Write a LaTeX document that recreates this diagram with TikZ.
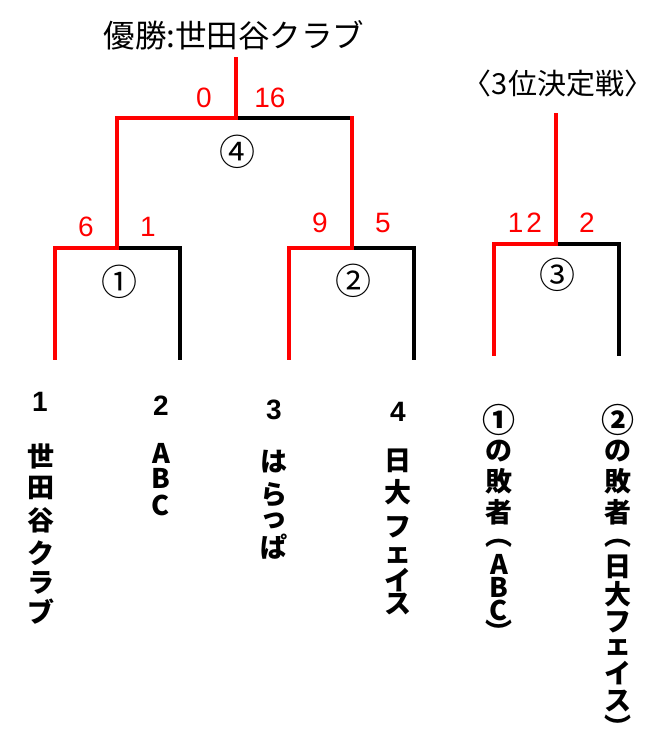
\documentclass[tikz,border=0pt]{standalone}
\usepackage{fontspec}
\setmainfont{Noto Sans CJK JP}
\newfontfamily\digitfont{Liberation Sans}
\newcommand\vcol[3]{\foreach \c/\yy [count=\i] in {#3} {\node[nm] (#1-\i) at (#2,\yy) {\c};}}
\begin{document}
\begin{tikzpicture}[x=1pt,y=-1pt,
  br/.style={line width=3.5pt, line join=miter, line cap=rect},
  win/.style={br, draw=red},
  lose/.style={br, draw=black},
  score/.style={text=red, inner sep=0pt, font=\digitfont\fontsize{28}{28}\selectfont},
  circ/.style={inner sep=0pt, font=\fontsize{36}{36}\selectfont},
  ttl/.style={inner sep=0pt, font=\fontsize{31.5}{31.5}\selectfont},
  ttl3/.style={inner sep=0pt, font=\fontsize{29}{29}\selectfont},
  nm/.style={inner sep=0pt, font=\bfseries\fontsize{27}{27}\selectfont},
  bigc/.style={inner sep=0pt, font=\bfseries\fontsize{33}{33}\selectfont},
  num/.style={inner sep=0pt, font=\digitfont\bfseries\fontsize{28}{28}\selectfont}]
\useasboundingbox[fill=white] (0,0) rectangle (670,756);
% bracket points
\coordinate (top4) at (236,59);
\coordinate (j4) at (236,118);
\coordinate (l4) at (117,118);
\coordinate (r4) at (352,118);
\coordinate (j1) at (117,248);
\coordinate (l1) at (55,248);
\coordinate (r1) at (180,248);
\coordinate (l1b) at (55,358);
\coordinate (r1b) at (180,358);
\coordinate (j2) at (352,248);
\coordinate (l2) at (289,248);
\coordinate (r2) at (414,248);
\coordinate (l2b) at (289,358);
\coordinate (r2b) at (414,358);
\coordinate (top3) at (556,115);
\coordinate (j3) at (556,244);
\coordinate (l3) at (494,244);
\coordinate (r3) at (619,244);
\coordinate (l3b) at (494,354);
\coordinate (r3b) at (619,354);
% losing branches
\draw[lose] (j4) -- (r4);
\draw[lose] (j1) -- (r1) -- (r1b);
\draw[lose] (j2) -- (r2) -- (r2b);
\draw[lose] (j3) -- (r3) -- (r3b);
% winning branches
\draw[win] (top4) -- (j4) -- (l4) -- (j1) -- (l1) -- (l1b);
\draw[win] (r4) -- (j2) -- (l2) -- (l2b);
\draw[win] (top3) -- (j3) -- (l3) -- (l3b);
% titles
\node[ttl] (title) at (234,35) {優勝:世田谷クラブ};
\node[ttl3] (title3) at (558,83) {〈3位決定戦〉};
% scores
\node[score] (s4l) at (204,98) {0};
\node[score] (s4r) at (270,98) {16};
\node[score] (s1l) at (86,227) {6};
\node[score] (s1r) at (148,227) {1};
\node[score] (s2l) at (320,223) {9};
\node[score] (s2r) at (383,223) {5};
\node[score] (s3l) at (525,223) {1\hspace{3pt}2};
\node[score] (s3r) at (587,223) {2};
% match numbers
\node[circ] (m4) at (237,152) {④};
\node[circ] (m1) at (119,282) {①};
\node[circ] (m2) at (353,281) {②};
\node[circ] (m3) at (557,275) {③};
% seed numbers
\node[num] (n1) at (40,402) {1};
\node[num] (n2) at (161,406) {2};
\node[num] (n3) at (274,410) {3};
\node[num] (n4) at (398,412) {4};
% team names (vertical)
\vcol{t1}{41}{世/456, 田/488, 谷/520, ク/553, ラ/583, ブ/612}
\vcol{t2}{161}{A/453, B/478, C/505}
\vcol{t3}{274}{は/462, ら/495, っ/521, ぱ/547}
\vcol{t4}{398}{日/461, 大/492, フ/527, ェ/555, イ/580, ス/604}
\node[bigc] (t5-0) at (499,420) {①};
\vcol{t5}{499}{の/451, 敗/481, 者/512, ︵/543, A/564, B/587, C/610, ︶/631}
\node[bigc] (t6-0) at (618,420) {②};
\vcol{t6}{618}{の/451, 敗/481, 者/512, ︵/543, 日/567, 大/594, フ/622, ェ/647, イ/673, ス/701, ︶/726}
\end{tikzpicture}
\end{document}
